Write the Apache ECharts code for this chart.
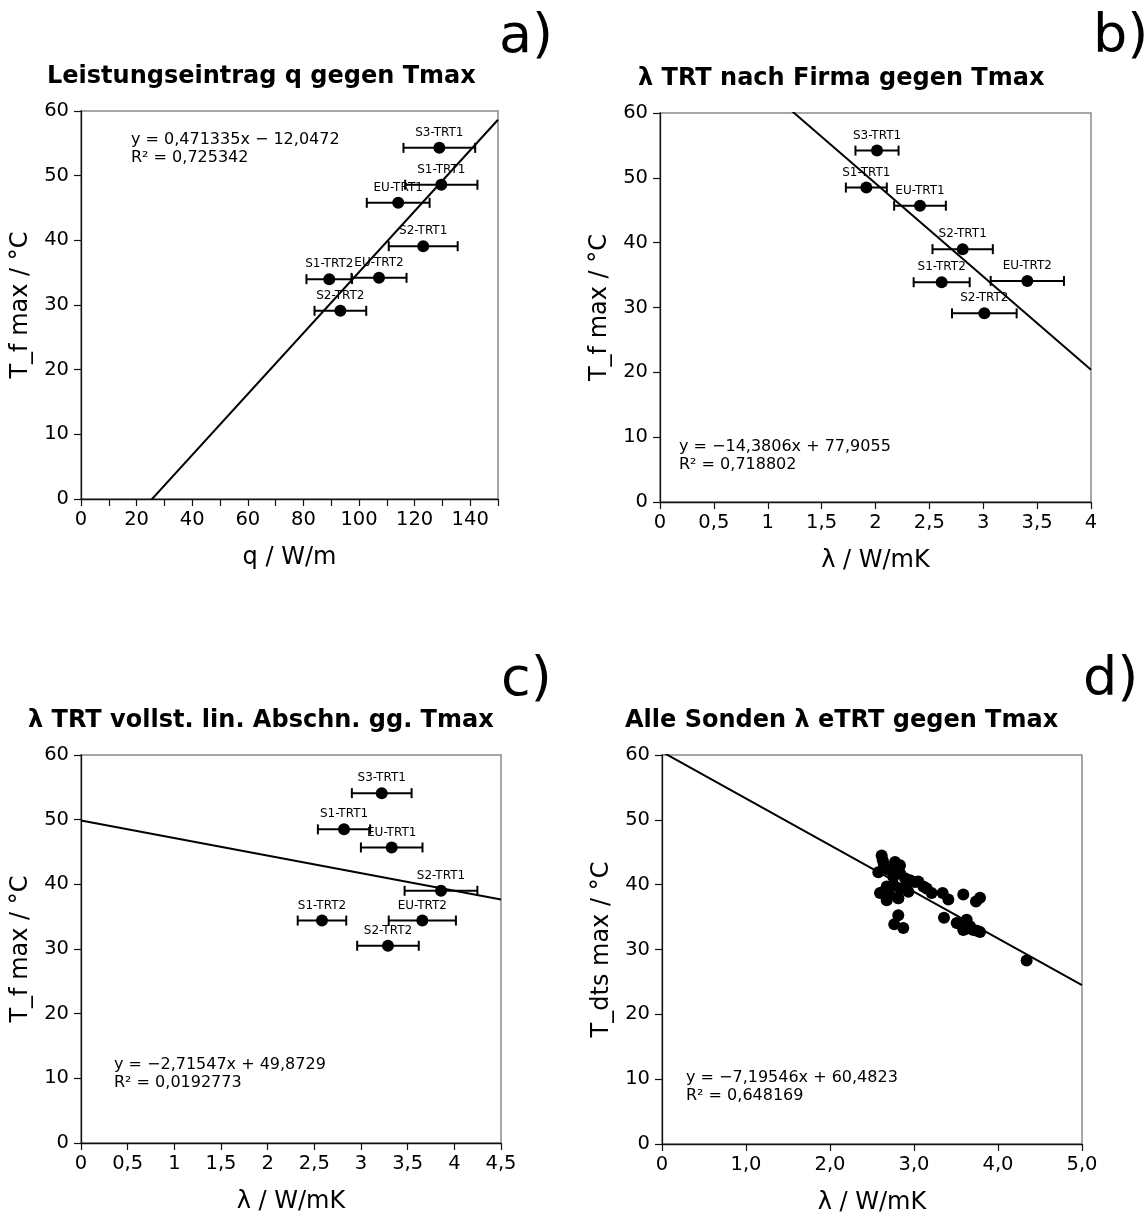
<!DOCTYPE html>
<html>
<head>
<meta charset="utf-8">
<script src="https://cdn.jsdelivr.net/npm/echarts@6/dist/echarts.min.js"></script>
<style>
  html, body { margin: 0; padding: 0; background: #fff; }
  #chart { width: 1147px; height: 1216px; }
</style>
</head>
<body>
<div id="chart"></div>
<script>
// ---- a) heat input q vs. max. fluid temperature ----
const probeLabels = ['S3-TRT1', 'S1-TRT1', 'EU-TRT1', 'S2-TRT1', 'S1-TRT2', 'EU-TRT2', 'S2-TRT2'];
const qA    = [128.9, 129.6, 114.1, 123.1, 89.3, 107.2, 93.3];
const tA    = [54.3, 48.6, 45.8, 39.1, 34.0, 34.2, 29.1];
const qErrA = [12.9, 13.0, 11.3, 12.4, 8.2, 9.9, 9.3];
const fitA  = { slope: 0.471335, intercept: -12.0472, r2: '0,725342' };

// ---- b) lambda TRT (contractor) vs. Tmax ----
const lamB    = [2.014, 1.915, 2.413, 2.809, 2.614, 3.409, 3.010];
const tB      = [54.2, 48.5, 45.7, 39.0, 33.9, 34.1, 29.1];
const lamErrB = [0.20, 0.19, 0.24, 0.28, 0.26, 0.34, 0.30];
const fitB    = { slope: -14.3806, intercept: 77.9055, r2: '0,718802' };

// ---- c) lambda TRT, full linear section vs. Tmax ----
const lamC    = [3.222, 2.818, 3.329, 3.857, 2.582, 3.657, 3.289];
const tC      = [54.1, 48.5, 45.7, 39.0, 34.4, 34.4, 30.5];
const lamErrC = [0.32, 0.28, 0.33, 0.39, 0.26, 0.36, 0.33];
const fitC    = { slope: -2.71547, intercept: 49.8729, r2: '0,0192773' };

// ---- d) all probes, lambda eTRT vs. Tdts max ----
const lamD = [2.615, 2.627, 2.640, 2.575, 2.774, 2.833, 2.794, 2.694, 2.754, 2.833,
              2.893, 2.953, 3.012, 3.051, 3.111, 3.151, 3.210, 2.635, 2.595, 2.675,
              2.714, 2.754, 2.813, 2.833, 2.913, 2.933, 2.675, 2.813, 3.341, 3.409,
              3.587, 3.738, 3.786, 3.357, 2.813, 2.765, 2.873, 3.508, 3.548, 3.627,
              3.627, 3.667, 3.706, 3.786, 3.587, 3.620, 3.750, 4.341];
const tD   = [44.5, 43.8, 43.2, 41.9, 43.5, 43.0, 42.8, 42.3, 41.2, 41.8,
              41.0, 40.7, 40.4, 40.5, 39.7, 39.4, 38.7, 38.9, 38.7, 39.7,
              38.4, 40.0, 37.9, 39.4, 40.0, 38.9, 37.6, 37.9, 38.7, 37.7,
              38.5, 37.4, 38.0, 34.9, 35.3, 33.9, 33.3, 34.1, 33.9, 34.6,
              33.5, 33.6, 33.0, 32.7, 33.0, 33.2, 32.9, 28.3];
const fitD = { slope: -7.19546, intercept: 60.4823, r2: '0,648169' };

const FONT = 'DejaVu Sans';
const fmtNum = (v, d) => v.toFixed(d).replace('.', ',');
const signed = (v, d) => (v < 0 ? '\u2212' : '') + fmtNum(Math.abs(v), d);
const eqText = (fit, dS, dI) =>
  'y = ' + signed(fit.slope, dS) + 'x ' + (fit.intercept < 0 ? '\u2212 ' : '+ ') +
  fmtNum(Math.abs(fit.intercept), dI) + '\nR\u00b2 = ' + fit.r2;

const grids = [
  { left: 81,  top: 111, width: 417, height: 388 },
  { left: 660, top: 113, width: 431, height: 389 },
  { left: 81,  top: 755, width: 420, height: 388 },
  { left: 662, top: 755, width: 420, height: 389 }
].map(g => Object.assign(g, { show: true, borderColor: '#8a8a8a', borderWidth: 1.5, backgroundColor: 'transparent' }));

function axisBase(extra) {
  return Object.assign({
    type: 'value',
    splitLine: { show: false },
    axisLine: { show: true, onZero: false, lineStyle: { color: '#111', width: 1.3 } },
    axisTick: { show: true, inside: false, length: 7, lineStyle: { color: '#111', width: 1.2 } },
    axisLabel: { color: '#000', fontSize: 19.5, fontFamily: FONT, margin: 11 },
    nameLocation: 'middle',
    nameTextStyle: { color: '#000', fontSize: 24, fontFamily: FONT }
  }, extra);
}
function xAxisDef(idx, min, max, interval, name, formatter) {
  const a = axisBase({ gridIndex: idx, min, max, interval, name, nameGap: 47 });
  a.axisLabel = Object.assign({}, a.axisLabel, { formatter });
  return a;
}
function yAxisDef(idx, name) {
  const a = axisBase({ gridIndex: idx, min: 0, max: 60, interval: 10, name, nameGap: 48, nameRotate: 90 });
  a.axisLabel = Object.assign({}, a.axisLabel, { margin: 12 });
  return a;
}

const commaFmt = v => String(v).replace('.', ',');
const xAxes = [
  xAxisDef(0, 0, 150, 10, 'q / W/m', v => (v % 20 === 0 ? String(v) : '')),
  xAxisDef(1, 0, 4, 0.5, '\u03bb / W/mK', commaFmt),
  xAxisDef(2, 0, 4.5, 0.5, '\u03bb / W/mK', commaFmt),
  xAxisDef(3, 0, 5, 1, '\u03bb / W/mK', v => (v === 0 ? '0' : fmtNum(v, 1)))
];
const yAxes = [
  yAxisDef(0, 'T_f max / \u00b0C'),
  yAxisDef(1, 'T_f max / \u00b0C'),
  yAxisDef(2, 'T_f max / \u00b0C'),
  yAxisDef(3, 'T_dts max / \u00b0C')
];

function errorBars(idx, xs, ys, errs) {
  return {
    type: 'custom',
    xAxisIndex: idx, yAxisIndex: idx,
    z: 2,
    silent: true,
    data: xs.map((x, i) => [x, ys[i], x - errs[i], x + errs[i]]),
    encode: { x: [2, 3], y: 1 },
    renderItem: (params, api) => {
      const lo = api.coord([api.value(2), api.value(1)]);
      const hi = api.coord([api.value(3), api.value(1)]);
      const cap = 5;
      const st = { stroke: '#000', lineWidth: 2 };
      return {
        type: 'group',
        children: [
          { type: 'line', shape: { x1: lo[0], y1: lo[1], x2: hi[0], y2: hi[1] }, style: st },
          { type: 'line', shape: { x1: lo[0], y1: lo[1] - cap, x2: lo[0], y2: lo[1] + cap }, style: st },
          { type: 'line', shape: { x1: hi[0], y1: hi[1] - cap, x2: hi[0], y2: hi[1] + cap }, style: st }
        ]
      };
    }
  };
}
function labelledPoints(idx, xs, ys) {
  return {
    type: 'scatter',
    xAxisIndex: idx, yAxisIndex: idx,
    z: 4,
    symbolSize: 12,
    itemStyle: { color: '#000', opacity: 1 },
    data: xs.map((x, i) => ({ name: probeLabels[i], value: [x, ys[i]] })),
    label: {
      show: true, position: 'top', distance: 3, formatter: '{b}',
      color: '#000', fontSize: 12, fontFamily: FONT
    }
  };
}
function fitLine(idx, fit, xMin, xMax) {
  return {
    type: 'line',
    xAxisIndex: idx, yAxisIndex: idx,
    z: 3,
    clip: true,
    symbol: 'none',
    silent: true,
    lineStyle: { color: '#000', width: 2 },
    data: [[xMin, fit.intercept + fit.slope * xMin], [xMax, fit.intercept + fit.slope * xMax]]
  };
}

function txt(x, y, text, size, weight, align) {
  return {
    type: 'text', x, y, silent: true,
    style: {
      text, fill: '#000', fontFamily: FONT, fontSize: size, fontWeight: weight || 'normal',
      align: align || 'left', verticalAlign: 'middle', lineHeight: Math.round(size * 1.15)
    }
  };
}

const option = {
  animation: false,
  backgroundColor: '#fff',
  grid: grids,
  xAxis: xAxes,
  yAxis: yAxes,
  graphic: [
    txt(499, 38, 'a)', 54),
    txt(1093, 38, 'b)', 54),
    txt(501, 681, 'c)', 54),
    txt(1083, 681, 'd)', 54),
    txt(47, 77, 'Leistungseintrag q gegen Tmax', 24, 'bold'),
    txt(638, 79, '\u03bb TRT nach Firma gegen Tmax', 24, 'bold'),
    txt(28, 721, '\u03bb TRT vollst. lin. Abschn. gg. Tmax', 24, 'bold'),
    txt(625, 721, 'Alle Sonden \u03bb eTRT gegen Tmax', 24, 'bold'),
    txt(131, 149, eqText(fitA, 6, 4), 16),
    txt(679, 456, eqText(fitB, 4, 4), 16),
    txt(114, 1074, eqText(fitC, 5, 4), 16),
    txt(686, 1087, eqText(fitD, 5, 4), 16)
  ],
  series: [
    errorBars(0, qA, tA, qErrA),
    labelledPoints(0, qA, tA),
    fitLine(0, fitA, 0, 150),

    errorBars(1, lamB, tB, lamErrB),
    labelledPoints(1, lamB, tB),
    fitLine(1, fitB, 0, 4),

    errorBars(2, lamC, tC, lamErrC),
    labelledPoints(2, lamC, tC),
    fitLine(2, fitC, 0, 4.5),

    {
      type: 'scatter', xAxisIndex: 3, yAxisIndex: 3, z: 4,
      symbolSize: 12, itemStyle: { color: '#000', opacity: 1 },
      data: lamD.map((x, i) => [x, tD[i]])
    },
    fitLine(3, fitD, 0, 5)
  ]
};

const chart = echarts.init(document.getElementById('chart'), null, { renderer: 'canvas' });
chart.setOption(option);
</script>
</body>
</html>
